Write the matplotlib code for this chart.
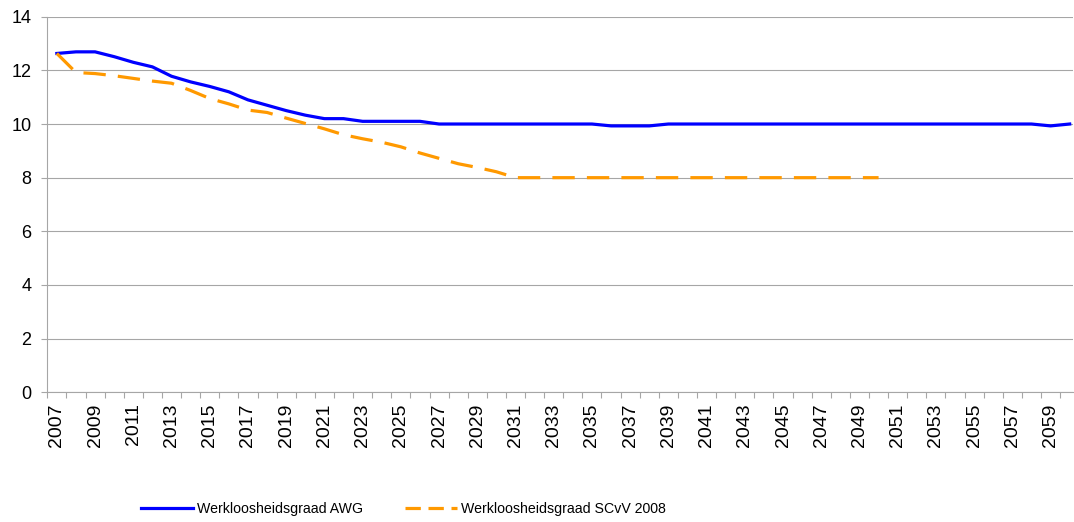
import matplotlib
matplotlib.use("Agg")
import matplotlib.pyplot as plt
from matplotlib.lines import Line2D
import numpy as np

plt.rcParams['font.family'] = ['Liberation Sans', 'DejaVu Sans']

years = list(range(2007, 2061))

awg = [12.63, 12.69, 12.69, 12.51, 12.30, 12.13, 11.78, 11.57, 11.40, 11.20,
       10.90, 10.70, 10.50, 10.33, 10.20, 10.20, 10.10, 10.10, 10.10, 10.10,
       10.00, 10.00, 10.00, 10.00, 10.00, 10.00, 10.00, 10.00, 10.00, 9.93,
       9.93, 9.93, 10.00, 10.00, 10.00, 10.00, 10.00, 10.00, 10.00, 10.00,
       10.00, 10.00, 10.00, 10.00, 10.00, 10.00, 10.00, 10.00, 10.00, 10.00,
       10.00, 10.00, 9.93, 10.00]

scvv = [12.63, 11.92, 11.88, 11.80, 11.70, 11.60, 11.52, 11.25, 10.95, 10.75,
        10.52, 10.43, 10.22, 10.02, 9.82, 9.60, 9.45, 9.32, 9.15, 8.92,
        8.72, 8.52, 8.38, 8.22, 8.00, 8.00, 8.00, 8.00, 8.00, 8.00,
        8.00, 8.00, 8.00, 8.00, 8.00, 8.00, 8.00, 8.00, 8.00, 8.00,
        8.00, 8.00, 8.00, 8.00] + [np.nan] * 10

labels = ["Werkloosheidsgraad AWG", "Werkloosheidsgraad SCvV 2008"]
yticks = [0, 2, 4, 6, 8, 10, 12, 14]
xlabel_years = list(range(2007, 2060, 2))

blue = "#0000FF"
orange = "#FF9900"
grid_c = "#A6A6A6"

fig = plt.figure(figsize=(10.74, 5.22), dpi=100)
W, H = 1074, 522
left_px, right_px, top_px, bot_px = 47.3, 1073, 16.7, 392.3
ax = fig.add_axes([left_px / W, 1 - bot_px / H, (right_px - left_px) / W, (bot_px - top_px) / H])

ax.plot(years, awg, color=blue, lw=2.3, solid_joinstyle='round', zorder=3)
ax.plot(years, scvv, color=orange, lw=2.3, dashes=(7.0, 3.8), zorder=3)

ax.set_ylim(0, 14)
ax.set_xlim(2006.5, 2006.5 + (right_px - left_px) / 19.11)
ax.set_yticks(yticks)
ax.set_yticklabels([str(v) for v in yticks], fontsize=13)
ax.set_xticks(xlabel_years)
ax.set_xticklabels([str(y) for y in xlabel_years], rotation=90, fontsize=14)
ax.set_xticks(np.arange(2006.5, 2060, 1.0), minor=True)
ax.tick_params(axis='x', which='major', length=0, pad=8)
ax.tick_params(axis='x', which='minor', length=4, width=0.8, color=grid_c, direction='out')
ax.tick_params(axis='y', length=4.5, width=0.8, color=grid_c, pad=7)

ax.grid(axis='y', color=grid_c, lw=0.8)
ax.set_axisbelow(True)
for s in ['top', 'right']:
    ax.spines[s].set_visible(False)
for s in ['left', 'bottom']:
    ax.spines[s].set_color(grid_c)
    ax.spines[s].set_linewidth(0.8)

h1 = Line2D([], [], color=blue, lw=2.3)
h2 = Line2D([], [], color=orange, lw=2.3, dashes=(4.8, 2.4))
fig.legend([h1, h2], labels, loc='center left', bbox_to_anchor=(141 / W, 1 - 509 / H),
           ncol=2, frameon=False, prop={"size": 10.2}, handlelength=3.67, handletextpad=0.28,
           columnspacing=2.96, borderpad=0, borderaxespad=0)

fig.savefig("out.png", dpi=100)
